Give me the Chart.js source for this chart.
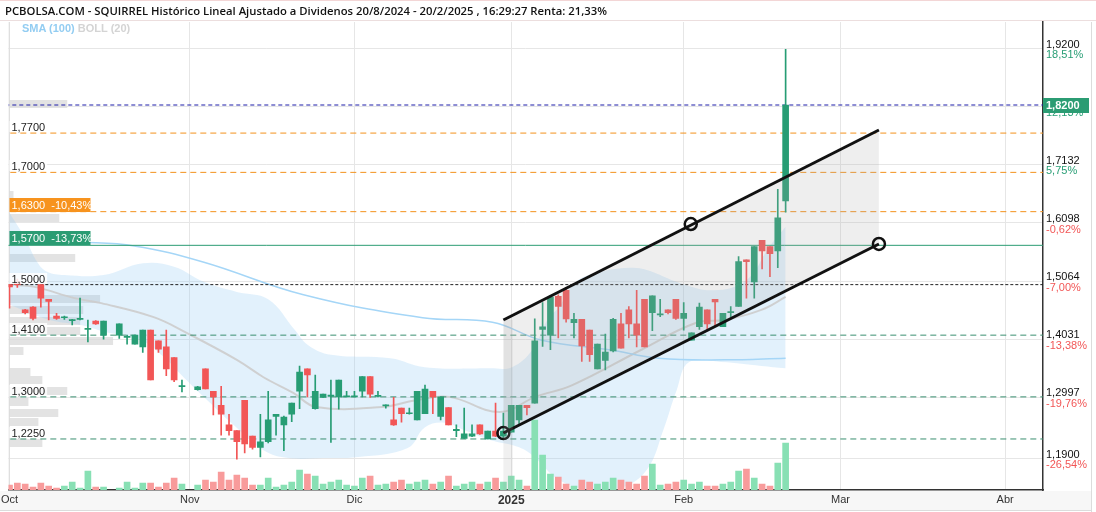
<!DOCTYPE html>
<html><head><meta charset="utf-8">
<script src="https://cdn.jsdelivr.net/npm/chart.js@4.4.1/dist/chart.umd.min.js"></script>
<style>
html,body{margin:0;padding:0;background:#fff;}
#wrap{position:relative;width:1096px;height:512px;overflow:hidden;background:#fff;}
canvas{position:absolute;left:0;top:0;}
#title{position:absolute;left:5px;top:3px;font:600 11.3px 'Open Sans',sans-serif;color:#111;white-space:nowrap;}
#legend{position:absolute;left:22px;top:22px;font:bold 11px 'Liberation Sans',Arial,sans-serif;}
#topline{position:absolute;left:0;top:0;width:1096px;height:21px;border-top:1px solid #f3d6d6;border-bottom:1px solid #ecdede;box-sizing:border-box;}
</style></head><body>
<div id="wrap"><canvas id="c" width="1096" height="512"></canvas>
<div id="topline"></div>
<div id="title">PCBOLSA.COM - SQUIRREL Histórico Lineal Ajustado a Dividenos 20/8/2024 - 20/2/2025 , 16:29:27 Renta: 21,33%</div>
<div id="legend"><span style="color:#93cdf2">SMA (100)</span> <span style="color:#d4d4d4">BOLL (20)</span></div>
</div>
<script>
// x = trading-day index counted from 1 Oct 2024
const monthTicks  = [0, 23, 44, 64, 86, 106, 127];
const monthLabels = ['Oct', 'Nov', 'Dic', '2025', 'Feb', 'Mar', 'Abr'];

const opens = [1.500,1.505,1.455,1.460,1.500,1.474,1.444,1.441,1.436,1.438, 1.420,1.435,1.410,null,1.410,1.406,1.394,1.389,1.419,1.400,
 1.389,1.370,1.318,null,1.313,1.350,1.310,1.285,1.250,1.240, 1.294,1.230,1.210,1.220,1.265,1.250,1.269,1.310,1.350,1.279,
 1.299,1.301,1.300,1.300,1.300,1.310,1.336,1.301,1.284,1.259, 1.280,1.270,1.259,1.270,1.310,1.265,1.281,1.240,1.226,1.230,
 1.250,1.225,1.239,1.230,1.237,1.259,1.285,1.289,1.420,1.410, 1.479,1.490,1.432,1.438,1.419,1.350,1.365,1.382,1.430,1.455,
 1.430,1.474,1.450,1.446,1.455,1.474,1.440,1.401,1.425,1.455, 1.474,1.425,1.450,1.461,1.544,1.505,1.579,1.568,1.560,1.649];
const highs = [1.500,1.510,1.456,1.461,1.500,1.474,1.449,1.444,1.438,1.476, 1.437,1.436,1.435,null,1.430,1.410,1.410,1.419,1.419,1.400,
 1.419,1.370,1.330,null,1.319,1.350,1.310,1.319,1.269,1.240, 1.294,1.230,1.269,1.310,1.269,1.266,1.289,1.355,1.350,1.339,
 1.305,1.330,1.330,1.310,1.310,1.336,1.336,1.310,1.286,1.299, 1.280,1.280,1.310,1.321,1.310,1.300,1.281,1.250,1.280,1.250,
 1.250,1.239,1.289,1.271,1.285,1.285,1.285,1.439,1.468,1.481, 1.482,1.495,1.449,1.438,1.419,1.394,1.412,1.440,1.449,1.461,
 1.490,1.474,1.480,1.474,1.455,1.474,1.468,1.414,1.467,1.455, 1.474,1.449,1.461,1.550,1.544,1.568,1.579,1.568,1.670,1.919];
const lows = [1.458,1.495,1.448,1.437,1.460,1.437,1.438,1.438,1.428,1.437, 1.398,1.429,1.403,null,1.404,1.394,1.394,1.379,1.330,1.379,
 1.338,1.327,1.309,null,1.312,1.314,1.268,1.232,1.232,1.189, 1.200,1.207,1.193,1.218,1.232,1.204,1.256,1.279,1.300,1.278,
 1.299,1.219,1.278,1.300,1.300,1.300,1.299,1.300,1.280,1.249, 1.255,1.269,1.259,1.270,1.270,1.259,1.250,1.229,1.226,1.229,
 1.233,1.225,1.229,1.228,1.237,1.250,1.268,1.289,1.390,1.384, 1.405,1.433,1.405,1.363,1.363,1.350,1.348,1.380,1.387,1.405,
 1.389,1.389,1.418,1.443,1.448,1.438,1.419,1.401,1.420,1.419, 1.425,1.425,1.443,1.461,1.476,1.476,1.528,1.514,1.530,1.629];
const closes = [1.496,1.500,1.450,1.440,1.476,1.470,1.440,1.442,1.437,1.440, 1.422,1.430,1.435,null,1.430,1.408,1.410,1.419,1.330,1.385,
 1.350,1.330,1.320,null,1.318,1.314,1.300,1.269,1.240,1.220, 1.216,1.210,1.220,1.259,1.269,1.264,1.289,1.344,1.339,1.310,
 1.305,1.303,1.330,1.302,1.302,1.336,1.305,1.302,1.285,1.250, 1.270,1.271,1.310,1.314,1.300,1.300,1.250,1.242,1.234,1.234,
 1.234,1.239,1.230,1.239,1.285,1.285,1.281,1.400,1.425,1.478, 1.461,1.439,1.438,1.391,1.375,1.394,1.380,1.438,1.387,1.430,
 1.410,1.389,1.480,1.448,1.450,1.440,1.449,1.414,1.460,1.430, 1.469,1.449,1.452,1.541,1.541,1.568,1.560,1.555,1.619,1.820];
// volume (thousand shares)
const volumes = [5,7,6,3,7,4,2,4,8,2, 19,3,3,0,2,8,2,7,7,3, 7,12,6,0,5,10,8,18,10,15,
 12,5,5,12,3,5,8,20,16,14, 6,8,10,5,4,12,14,5,6,8, 10,6,8,10,6,8,14,4,6,8,
 6,8,12,8,14,10,4,70,35,16, 13,6,4,10,8,6,8,12,10,8, 6,14,26,5,6,8,10,6,8,4, 4,6,8,19,21,12,6,4,27,47];

// Bollinger (20) and SMA (100)
const bbUpperX = [0,1.9,3.6,4.8,7,12,17,21,24.8,29,33,36.4,38.1,41,48.6,53,61.3,64.1,66.7,68.6,70.1,72.1,74.9,79.1,81.3,85.5,89.8,94,96.9,99];
const bbUpper  = [1.628,1.585,1.539,1.523,1.517,1.517,1.538,1.532,1.505,1.487,1.474,1.419,1.392,1.375,1.369,1.353,1.351,1.353,1.384,1.437,1.460,1.503,1.521,1.530,1.526,1.503,1.490,1.508,1.567,1.603];
const bbLowerX = [0,5.1,9.1,12.1,16.8,19.7,22.2,24.8,28.6,32.4,35.6,40,44.5,50.8,53,55.5,58,61.3,64.8,66.7,70.1,74.3,78.1,81.3,83.4,85.1,86.7,90.8,95.9,99];
const bbLower  = [1.464,1.437,1.428,1.416,1.401,1.371,1.335,1.300,1.250,1.205,1.191,1.191,1.193,1.209,1.246,1.254,1.241,1.223,1.211,1.196,1.152,1.134,1.138,1.170,1.241,1.312,1.362,1.362,1.355,1.351];
const bbMidX = [0,3.2,8.3,11.7,18.4,22.6,29,32.4,36.2,39.1,47.6,51.8,56.1,62.5,67.1,71.8,80.6,87.6,91.2,95.9,99];
const bbMid  = [1.500,1.496,1.476,1.467,1.442,1.414,1.366,1.335,1.307,1.282,1.282,1.294,1.300,1.273,1.300,1.321,1.384,1.432,1.437,1.455,1.478];
const smaX = [0,7,15.9,24.8,37.5,52.7,61.6,67.9,76.5,82.8,91.2,99];
const sma  = [1.594,1.578,1.569,1.540,1.482,1.441,1.433,1.401,1.384,1.369,1.366,1.369];

// drawn trend channel (anchor points)
const channelX     = [63, 110.9];
const channelUpper = [1.437, 1.7755];
const channelLower = [1.2356, 1.5724];
const circleX = [63, 86.9, 110.9];
const circleY = [1.2356, 1.608, 1.5724];
const stripX = [63, 64.2];   // shaded start-of-channel strip (index range)

// horizontal price levels
const levelPrices = [1.82, 1.77, 1.70, 1.63, 1.57, 1.50, 1.41, 1.30, 1.225];
const levelKinds  = ['last','res','res','alert','stop','mark','sup','sup','sup'];
const levelTexts  = ['', '1,7700', '1,7000', '1,6300  -10,43%', '1,5700  -13,73%', '1,5000', '1,4100', '1,3000', '1,2250'];
const lastPriceText = '1,8200';

// right axis ticks
const rightTicks   = [1.92, 1.8166, 1.7132, 1.6098, 1.5064, 1.4031, 1.2997, 1.19];
const rightTickTxt = ['1,9200','1,8166','1,7132','1,6098','1,5064','1,4031','1,2997','1,1900'];
const rightTickPct = ['18,51%','12,13%','5,75%','-0,62%','-7,00%','-13,38%','-19,76%','-26,54%'];

// volume-by-price profile
const vpPrices  = [1.822,1.660,1.619,1.547,1.474,1.455,1.435,1.417,1.400,1.382,1.344,1.330,1.311,1.291,1.271,1.255,1.218];
const vpVolumes = [58,4,50,66,91,74,71,71,104,14,21,33,58,19,49,29,33];

// ---------- styles ----------
const GREEN = '#279d74', RED = '#f25656';
const VGREEN = '#88e0b4', VRED = '#f89b9b';
const levelStyle = {
  last:  {color:'#1c1ca8', dash:[4,3], w:1},
  res:   {color:'#f3911c', dash:[6,4], w:1},
  alert: {color:'#f3911c', dash:[6,4], w:1},
  stop:  {color:'#2b9c73', dash:[],    w:1},
  mark:  {color:'#222222', dash:[3,2], w:1},
  sup:   {color:'#3a8f70', dash:[6,4], w:1}
};

const idx = opens.map((o,i)=>i).filter(i=>opens[i]!==null);
const up = i => closes[i] >= opens[i];

const datasets = [];
datasets.push({type:'line', data: bbUpperX.map((x,k)=>({x, y:bbUpper[k]})), borderWidth:0, pointRadius:0, tension:0.4, fill:false, order:12});
datasets.push({type:'line', data: bbLowerX.map((x,k)=>({x, y:bbLower[k]})), borderWidth:0, pointRadius:0, tension:0.4, fill:{target:0}, backgroundColor:'rgba(150,206,243,0.28)', order:13});
datasets.push({type:'line', data: bbMidX.map((x,k)=>({x, y:bbMid[k]})), borderColor:'rgba(205,205,205,0.9)', borderWidth:2, pointRadius:0, tension:0.4, fill:false, order:11});
datasets.push({type:'line', data: smaX.map((x,k)=>({x, y:sma[k]})), borderColor:'#a5d6f7', borderWidth:1.5, pointRadius:0, tension:0.4, fill:false, order:10});
levelPrices.forEach((p,k)=>{
  const st = levelStyle[levelKinds[k]];
  datasets.push({type:'line', data:[{x:-5,y:p},{x:140,y:p}], borderColor:st.color, borderDash:st.dash, borderWidth:st.w, pointRadius:0, fill:false, order:9});
});
datasets.push({type:'bar', yAxisID:'yv', grouped:false, barThickness:6, order:8,
  data: idx.filter(i=>volumes[i]>0).map(i=>({x:i, y:volumes[i]})),
  backgroundColor: c => up(c.raw.x) ? VGREEN : VRED});
datasets.push({type:'bar', grouped:false, barThickness:1, order:7, minBarLength:1,
  data: idx.map(i=>({x:i, y:[lows[i], highs[i]]})),
  backgroundColor: c => up(c.raw.x) ? GREEN : RED});
datasets.push({type:'bar', grouped:false, barThickness:6, order:6, minBarLength:1,
  data: idx.map(i=>({x:i, y:[opens[i], closes[i]]})),
  backgroundColor: c => up(c.raw.x) ? GREEN : RED});
const upIdx = datasets.length;
datasets.push({type:'line', data: channelX.map((x,k)=>({x, y:channelUpper[k]})), borderColor:'#111', borderWidth:3, pointRadius:0, fill:false, order:3});
datasets.push({type:'line', data: channelX.map((x,k)=>({x, y:channelLower[k]})), borderColor:'#111', borderWidth:3, pointRadius:0, fill:{target:upIdx}, backgroundColor:'rgba(170,170,170,0.2)', order:4});
datasets.push({type:'scatter', data: circleX.map((x,k)=>({x, y:circleY[k]})), pointRadius:6, pointBorderWidth:2.5, pointBorderColor:'#111', pointBackgroundColor:'rgba(0,0,0,0)', order:1});

const FONT = "'Liberation Sans', Arial, sans-serif";

const overlay = {
  id:'overlay',
  beforeDraw(chart){
    const {ctx} = chart;
    ctx.save();
    ctx.fillStyle = '#f7f7f7';
    ctx.fillRect(0, 491, 1092, 19);
    ctx.strokeStyle = '#dcdcdc'; ctx.lineWidth = 1;
    ctx.beginPath(); ctx.moveTo(0,510.5); ctx.lineTo(1092,510.5); ctx.stroke();
    ctx.beginPath(); ctx.moveTo(1091.5,22); ctx.lineTo(1091.5,512); ctx.stroke();
    ctx.restore();
  },
  beforeDatasetsDraw(chart){
    const {ctx, chartArea:a, scales} = chart;
    ctx.save();
    ctx.beginPath(); ctx.rect(a.left, a.top, a.right-a.left, a.bottom-a.top); ctx.clip();
    ctx.fillStyle = 'rgba(218,218,218,0.75)';
    const x0 = scales.xvp.getPixelForValue(0);
    vpPrices.forEach((p,k)=>{
      const y = scales.y.getPixelForValue(p);
      const w = scales.xvp.getPixelForValue(vpVolumes[k]) - x0;
      ctx.fillRect(a.left+1, Math.round(y-4), w, 8);
    });
    ctx.strokeStyle = '#d8d8d8'; ctx.lineWidth = 1;
    ctx.beginPath(); ctx.moveTo(a.left+0.5, a.top); ctx.lineTo(a.left+0.5, a.bottom); ctx.stroke();
    ctx.restore();
  },
  afterDatasetsDraw(chart){
    const {ctx, chartArea:a, scales} = chart;
    ctx.save();
    // shaded strip at channel start
    const sx0 = scales.x.getPixelForValue(stripX[0]), sx1 = scales.x.getPixelForValue(stripX[1]);
    const sy0 = scales.y.getPixelForValue(channelUpper[0]);
    ctx.fillStyle = 'rgba(160,160,160,0.16)';
    ctx.fillRect(sx0, sy0, sx1-sx0, a.bottom-sy0);
    ctx.font = '11px ' + FONT;
    ctx.textBaseline = 'middle';
    levelPrices.forEach((p,k)=>{
      const t = levelTexts[k]; if(!t) return;
      const y = scales.y.getPixelForValue(p);
      const kind = levelKinds[k];
      if(kind==='alert' || kind==='stop'){
        ctx.fillStyle = kind==='alert' ? '#f7931e' : '#2b9c73';
        ctx.fillRect(a.left+1, Math.round(y)-14, 81, 14);
        ctx.fillStyle = '#fff';
        ctx.fillText(t, a.left+3, Math.round(y)-6.5);
      } else {
        const w = ctx.measureText(t).width;
        ctx.fillStyle = 'rgba(255,255,255,0.85)';
        ctx.fillRect(a.left+1, Math.round(y)-12, w+4, 11);
        ctx.fillStyle = '#222';
        ctx.fillText(t, a.left+3, Math.round(y)-5.5);
      }
    });
    ctx.restore();
  },
  afterDraw(chart){
    const {ctx, chartArea:a, scales} = chart;
    ctx.save();
    ctx.font = '11px ' + FONT;
    rightTicks.forEach((v,k)=>{
      const y = scales.y.getPixelForValue(v);
      ctx.fillStyle = '#111';
      ctx.textBaseline = 'bottom';
      ctx.fillText(rightTickTxt[k], a.right+3, y+1.5);
      ctx.textBaseline = 'top';
      ctx.fillStyle = rightTickPct[k].startsWith('-') ? '#f25656' : '#279d74';
      ctx.fillText(rightTickPct[k], a.right+3, y+1);
    });
    const yl = scales.y.getPixelForValue(levelPrices[0]);
    ctx.fillStyle = '#2b9c73';
    ctx.fillRect(a.right, Math.round(yl)-7, 46, 15);
    ctx.fillStyle = '#fff';
    ctx.font = 'bold 11px ' + FONT;
    ctx.textBaseline = 'middle';
    ctx.fillText(lastPriceText, a.right+3, Math.round(yl)+0.5);
    ctx.restore();
  }
};

new Chart(document.getElementById('c'), {
  data:{datasets},
  options:{
    responsive:false, animation:false, maintainAspectRatio:false,
    layout:{padding:{left:4, top:22, right:0, bottom:0}},
    plugins:{legend:{display:false}, tooltip:{enabled:false}, title:{display:false}},
    scales:{
      x:{type:'linear', min:-0.127, max:131.83, position:'bottom', offset:false,
         afterBuildTicks: s => { s.ticks = monthTicks.map(v=>({value:v})); },
         afterFit: s => { s.height = 22; s.paddingLeft = 0; s.paddingRight = 0; },
         ticks:{autoSkip:false, maxRotation:0, padding:3, color:'#333',
                callback:(v,i)=>monthLabels[i],
                font: c => (c.tick && c.tick.value===64) ? {family:FONT, size:12, weight:'bold'} : {family:FONT, size:11}},
         grid:{color:'#e6e6e6', drawTicks:false, offset:false},
         border:{display:true, color:'#333', width:1.5}},
      xvp:{type:'linear', axis:'x', display:false, min:0, max:1039, offset:false},
      y:{type:'linear', position:'right', min:1.1341, max:1.9679,
         afterBuildTicks: s => { s.ticks = rightTicks.map(v=>({value:v})); },
         afterFit: s => { s.width = 53; },
         ticks:{display:false}, grid:{color:'#e6e6e6', drawTicks:false},
         border:{display:true, color:'#333', width:1.5}},
      yv:{type:'linear', display:false, min:0, max:468}
    }
  },
  plugins:[overlay]
});
</script>
</body></html>
